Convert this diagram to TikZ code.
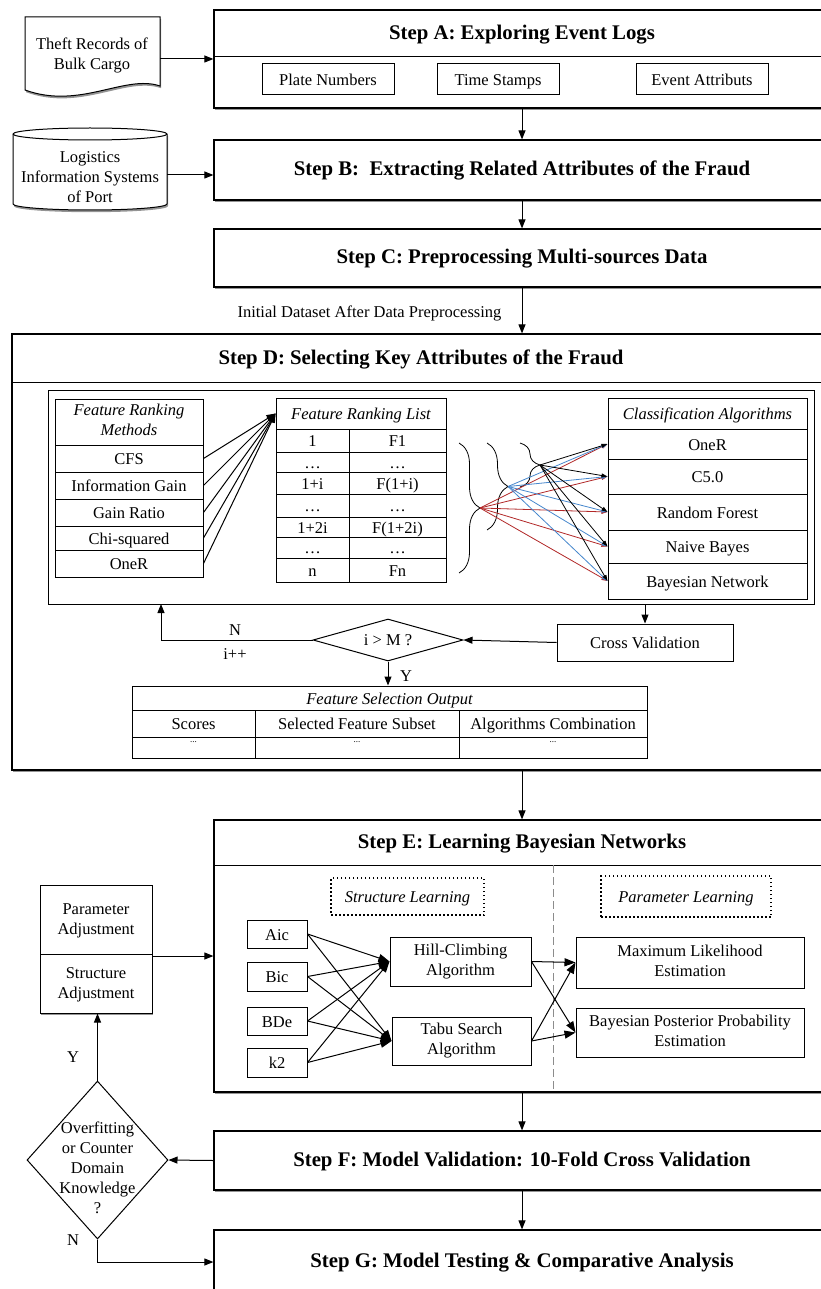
\documentclass[tikz,border=0pt]{standalone}
\usepackage{fontspec}
\setmainfont{Liberation Serif}
\usetikzlibrary{arrows.meta,shapes.geometric,shadows,decorations.pathreplacing,calc}

\definecolor{arrred}{RGB}{178,40,40}
\definecolor{arrblue}{RGB}{70,135,205}

% fixed-height strut so that every cell centres its text alike
\newcommand\cellstrut{\rule[-4pt]{0pt}{20pt}}

% rectangular node given by its corners: [style]{name}{x1}{y1}{x2}{y2}{text}
\newcommand\boxat[7][]{%
  \pgfmathsetmacro\bxw{#5-#3}\pgfmathsetmacro\bxh{#6-#4}%
  \pgfmathsetmacro\bxx{(#3+#5)/2}\pgfmathsetmacro\bxy{(#4+#6)/2}%
  \node[box,#1,minimum width=\bxw pt,minimum height=\bxh pt] (#2) at (\bxx,\bxy) {#7};}

\begin{document}
\begin{tikzpicture}[x=1pt,y=-1pt,
  body/.style={font=\fontsize{16.5}{20}\selectfont},
  it/.style={font=\fontsize{16.5}{20}\selectfont\itshape},
  ttl/.style={font=\fontsize{20.8}{24}\selectfont\bfseries},
  box/.style={draw, line width=1pt, fill=white, inner xsep=1pt, inner ysep=0pt, align=center, body,
              execute at begin node=\cellstrut, execute at end node=\cellstrut},
  shd/.style={drop shadow={shadow xshift=1pt, shadow yshift=-2.2pt, fill=black!70, opacity=0.6}},
  stepbox/.style={line width=1.2pt, shd},
  dotbox/.style={line width=1.2pt, dash pattern=on 1.5pt off 2.5pt},
  arr/.style={line width=1pt, -{Triangle[length=9pt,width=7pt]}},
  barr/.style={line width=1pt, -{Triangle[length=11pt,width=8pt]}},
  carr/.style={line width=0.8pt, -{Triangle[length=6pt,width=4pt]}},
  brc/.style={line width=0.8pt, decorate},
  lbl/.style={body, inner sep=0pt}
]
\useasboundingbox (0,0) rectangle (820,1289);

% ---------------- sources and Step A / B / C ----------------
\path[draw, line width=1pt, fill=white, shd]
  (25,17) -- (160,17) -- (160,86) .. controls (125,74) and (80,110) .. (25,90) -- cycle;
\node[body, align=center] (theft) at (92,55) {Theft Records of\\Bulk Cargo};
\coordinate (theftR) at (160,59);

\path[draw, line width=1pt, fill=white, shd]
  (13,134) -- (13,204) arc[start angle=180, end angle=360, x radius=77pt, y radius=6pt]
  -- (167,134) arc[start angle=0, end angle=180, x radius=77pt, y radius=6pt] -- cycle;
\draw[line width=1pt] (13,134) arc[start angle=180, end angle=360, x radius=77pt, y radius=6pt];
\node[body, align=center] (lis) at (90,177) {Logistics\\Information Systems\\of Port};
\coordinate (lisR) at (167,175);

\boxat[stepbox]{stepA}{214}{10}{830}{108}{}
\draw[line width=1pt] (214,57) -- (830,57);
\node[ttl] (tA) at (522,34.5) {Step A: Exploring Event Logs};
\boxat{plate}{262}{64}{394}{95}{Plate Numbers}
\boxat{tstamp}{437}{64}{559}{95}{Time Stamps}
\boxat{evattr}{636}{64}{768}{95}{Event Attributs}

\boxat[stepbox,ttl]{stepB}{214}{140}{830}{200}{Step B:\ \ Extracting Related Attributes of the Fraud}
\boxat[stepbox,ttl]{stepC}{214}{229}{830}{287}{Step C: Preprocessing Multi-sources Data}

\draw[arr] (theftR) -- (stepA.west);
\draw[arr] (lisR) -- (lisR -| stepB.west);
\draw[arr] (stepA.south) -- (stepB.north);
\draw[arr] (stepB.south) -- (stepC.north);

\node[lbl] (initds) at (369.5,313) {Initial Dataset After Data Preprocessing};

% ---------------- Step D ----------------
\boxat[stepbox]{stepD}{12}{334}{830}{770}{}
\draw[line width=1pt] (12,382) -- (830,382);
\node[ttl] (tD) at (421,359) {Step D: Selecting Key Attributes of the Fraud};
\draw[arr] (stepC.south) -- (stepC.south |- stepD.north);
\boxat{dinner}{48}{390}{814}{604}{}

% feature ranking methods
\boxat[it]{mh}{55}{399}{203}{445}{Feature Ranking\\Methods}
\boxat{m1}{55}{445}{203}{472}{CFS}
\boxat{m2}{55}{472}{203}{499}{Information Gain}
\boxat{m3}{55}{499}{203}{526}{Gain Ratio}
\boxat{m4}{55}{526}{203}{550}{Chi-squared}
\boxat{m5}{55}{550}{203}{577}{OneR}

% feature ranking list
\boxat[it]{flh}{276}{398}{446}{429}{Feature Ranking List}
\boxat{fa1}{276}{429}{349}{452}{1}      \boxat{fb1}{349}{429}{446}{452}{F1}
\boxat{fa2}{276}{452}{349}{472}{…}      \boxat{fb2}{349}{452}{446}{472}{…}
\boxat{fa3}{276}{472}{349}{494}{1+i}    \boxat{fb3}{349}{472}{446}{494}{F(1+i)}
\boxat{fa4}{276}{494}{349}{517}{…}      \boxat{fb4}{349}{494}{446}{517}{…}
\boxat{fa5}{276}{517}{349}{537}{1+2i}   \boxat{fb5}{349}{517}{446}{537}{F(1+2i)}
\boxat{fa6}{276}{537}{349}{558}{…}      \boxat{fb6}{349}{537}{446}{558}{…}
\boxat{fa7}{276}{558}{349}{582}{n}      \boxat{fb7}{349}{558}{446}{582}{Fn}

\foreach \m in {m1,m2,m3,m4,m5} \draw[arr] (\m.east) -- (flh.west);

% classification algorithms
\boxat[it]{ch}{608}{398}{807}{429}{Classification Algorithms}
\boxat{c1}{608}{429}{807}{459}{OneR}
\boxat{c2}{608}{459}{807}{494}{C5.0}
\boxat{c3}{608}{494}{807}{530}{Random Forest}
\boxat{c4}{608}{530}{807}{563}{Naive Bayes}
\boxat{c5}{608}{563}{807}{599}{Bayesian Network}

% subset braces and their combinations
\draw[brc, decoration={brace, amplitude=21pt}] (459,443) -- (459,573);
\draw[brc, decoration={brace, amplitude=21pt}] (487,443) -- (487,530);
\draw[brc, decoration={brace, amplitude=20pt}] (520,443) -- (520,487);
\coordinate (tipL) at (480,508);
\coordinate (tipM) at (508,486.5);
\coordinate (tipS) at (540,465);
\foreach \c in {c1,c2,c3,c4,c5} \draw[carr, arrred] (tipL) -- (\c.west);
\foreach \c in {c1,c2,c3,c4,c5} \draw[carr, arrblue] (tipM) -- (\c.west);
\foreach \c in {c1,c2,c3,c4,c5} \draw[carr, black] (tipS) -- (\c.west);

% validation loop
\boxat{cv}{557}{624}{733}{661}{Cross Validation}
\node[draw, diamond, aspect=3.57, minimum width=150pt, minimum height=42pt, inner sep=0pt,
      line width=1pt, fill=white, body] (im) at (388,640) {i > M ?};
\draw[arr] (cv.north |- dinner.south) -- (cv.north);
\draw[arr] (cv.west) -- (im.east);
\coordinate (nup) at (161,604);
\draw[arr] (im.west) -| (nup);
\node[lbl] (lblN) at (235,630) {N};
\node[lbl] (lblinc) at (235,654) {i++};

% feature selection output
\boxat[it]{fsoh}{132}{686}{647}{710}{Feature Selection Output}
\boxat{fs1}{132}{710}{255}{737}{Scores}
\boxat{fs2}{255}{710}{459}{737}{Selected Feature Subset}
\boxat{fs3}{459}{710}{647}{737}{Algorithms Combination}
\boxat{fd1}{132}{737}{255}{758}{}
\boxat{fd2}{255}{737}{459}{758}{}
\boxat{fd3}{459}{737}{647}{758}{}
\node[font=\fontsize{9}{9}\selectfont, inner sep=0pt] (dt1) at (193.5,742) {...};
\node[font=\fontsize{9}{9}\selectfont, inner sep=0pt] (dt2) at (357,742) {...};
\node[font=\fontsize{9}{9}\selectfont, inner sep=0pt] (dt3) at (553,742) {...};
\draw[arr] (im.south) -- (im.south |- fsoh.north);
\node[lbl] (lblY) at (406,676) {Y};

% ---------------- Step E ----------------
\boxat[stepbox]{stepE}{214}{820}{830}{1092}{}
\draw[line width=1pt] (214,865) -- (830,865);
\node[ttl] (tE) at (522,843.5) {Step E: Learning Bayesian Networks};
\draw[arr] (stepD.south -| stepE.north) -- (stepE.north);
\draw[black!45, line width=0.7pt, dash pattern=on 8pt off 4pt] (553,865) -- (553,1092);

\boxat[it,dotbox]{slbox}{331}{878}{484}{915}{Structure Learning}
\boxat[it,dotbox]{plbox}{601}{876}{771}{917}{Parameter Learning}

\boxat{aic}{247}{920}{307}{948}{Aic}
\boxat{bic}{247}{962}{307}{991}{Bic}
\boxat{bde}{247}{1007}{307}{1035}{BDe}
\boxat{ktwo}{247}{1048}{307}{1077}{k2}
\boxat{hc}{390}{937}{531}{986}{Hill-Climbing\\Algorithm}
\boxat{ts}{392}{1017}{531}{1065}{Tabu Search\\Algorithm}
\boxat{ml}{576}{937}{804}{988}{Maximum Likelihood\\Estimation}
\boxat{bpp}{576}{1008}{804}{1057}{Bayesian Posterior Probability\\Estimation}

\foreach \s in {aic,bic,bde,ktwo} {
  \draw[barr] (\s.east) -- (hc.west);
  \draw[barr] (\s.east) -- (ts.west);
}
\draw[barr] (hc.east) -- (ml.west);
\draw[barr] (hc.east) -- (bpp.west);
\draw[barr] (ts.east) -- (ml.west);
\draw[barr] (ts.east) -- (bpp.west);

% adjustment feedback
\boxat[shd]{adj}{40}{885}{152}{1013}{}
\draw[line width=1pt] (40,954) -- (152,954);
\node[body, align=center] (adjP) at (96,921) {Parameter\\Adjustment};
\node[body, align=center] (adjS) at (96,984.5) {Structure\\Adjustment};
\draw[arr] (stepE.west -| adj.east) -- (stepE.west);

% ---------------- Steps F and G ----------------
\boxat[stepbox,ttl]{stepF}{214}{1131}{830}{1190}{Step F: Model Validation: 10-Fold Cross Validation}
\boxat[stepbox,ttl]{stepG}{214}{1230}{830}{1294}{Step G: Model Testing \& Comparative Analysis}
\draw[arr] (stepE.south) -- (stepF.north);
\draw[arr] (stepF.south) -- (stepG.north);

\node[draw, diamond, minimum width=141pt, minimum height=158pt, inner sep=0pt,
      line width=1pt, fill=white] (ovf) at (97.5,1160) {};
\node[body, align=center] (ovft) at (97.5,1168) {Overfitting\\or Counter\\Domain\\Knowledge\\?};
\draw[arr] (stepF.west) -- (ovf.east);
\draw[arr] (ovf.north) -- (ovf.north |- adj.south);
\node[lbl] (lblY2) at (73,1057) {Y};
\draw[arr] (ovf.south) |- (stepG.west);
\node[lbl] (lblN2) at (73,1240) {N};
\end{tikzpicture}
\end{document}
